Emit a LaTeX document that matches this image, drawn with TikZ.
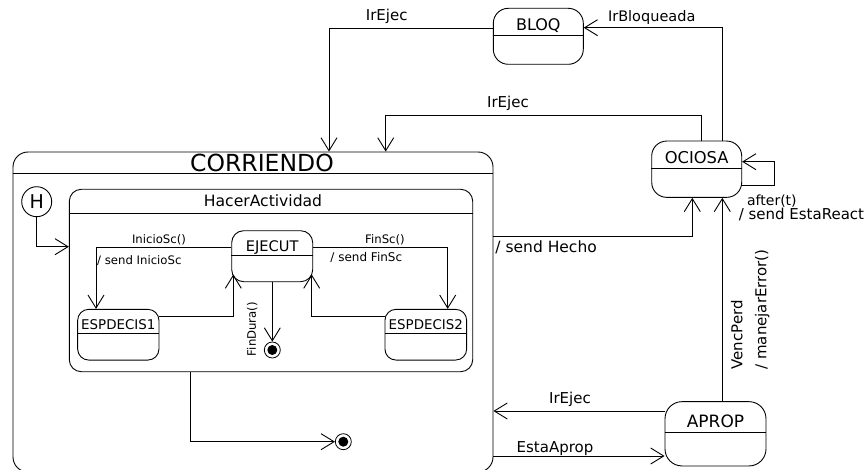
\documentclass[tikz,border=0pt]{standalone}
\usepackage{fontspec}
\setmainfont{DejaVu Sans}
\usetikzlibrary{arrows.meta,calc}
\begin{document}
\begin{tikzpicture}[x=1pt,y=-1pt,line width=0.9pt,
  ustate/.style={draw,rounded corners=#1,inner sep=0pt},
  ustate/.default=13pt,
  arr/.style={-{Straight Barb[length=13pt,width=16pt]}},
  fin/.style={draw,circle,minimum size=16pt,inner sep=0pt,line width=0.8pt,
    path picture={\fill (path picture bounding box.center) circle (5pt);}},
  tx/.style={inner sep=0pt,text depth=0pt,font=\fontsize{#1}{#1}\selectfont,text height=0.729*#1 pt},
  tx/.default=15]
\useasboundingbox (0,0) rectangle (866,470);
% composite states
\node[ustate=15pt,minimum width=480pt,minimum height=320pt] (corr) at (253,312) {};
\draw (corr.west |- 0,173.3) -- (corr.east |- 0,173.3);
\node[tx=23.5] (corrT) at (262,163) {CORRIENDO};
\node[ustate=12pt,minimum width=403.4pt,minimum height=182.4pt] (hacer) at (271,280.5) {};
\draw (hacer.west |- 0,213.3) -- (hacer.east |- 0,213.3);
\node[tx=15.6] (hacerT) at (263,201) {HacerActividad};
% history
\node[draw,circle,minimum size=30pt,inner sep=0pt,font=\fontsize{19}{19}\selectfont] (hist) at (36.7,201.7) {H};
% inner states
\node[ustate=12pt,minimum width=81pt,minimum height=51pt] (ejec) at (272.2,256.2) {};
\draw (ejec.west |- 0,255.7) -- (ejec.east |- 0,255.7);
\node[tx=14.6] (ejecT) at (272.2,246) {EJECUT};
\node[ustate=11pt,minimum width=81.3pt,minimum height=50.7pt] (esp1) at (118.3,334.7) {};
\draw (esp1.west |- 0,333.3) -- (esp1.east |- 0,333.3);
\node[tx=13.4] (esp1T) at (118.3,324.3) {ESPDECIS1};
\node[ustate=11pt,minimum width=81.7pt,minimum height=50.7pt] (esp2) at (425.8,334.7) {};
\draw (esp2.west |- 0,333.3) -- (esp2.east |- 0,333.3);
\node[tx=13.4] (esp2T) at (425.8,324.3) {ESPDECIS2};
\node[fin] (fin1) at (272.3,350) {};
\node[fin] (fin2) at (343.3,441.7) {};
% outer states
\node[ustate=15pt,minimum width=90pt,minimum height=56pt] (bloq) at (538.3,36.3) {};
\draw (bloq.west |- 0,35.7) -- (bloq.east |- 0,35.7);
\node[tx=16] (bloqT) at (538.3,25) {BLOQ};
\node[ustate=15pt,minimum width=90pt,minimum height=56.3pt] (ocio) at (696.7,169.2) {};
\draw (ocio.west |- 0,168.3) -- (ocio.east |- 0,168.3);
\node[tx=16.3] (ocioT) at (696.7,157.7) {OCIOSA};
\node[ustate=17pt,minimum width=101pt,minimum height=64.3pt] (aprop) at (715.5,433.8) {};
\draw (aprop.west |- 0,432.3) -- (aprop.east |- 0,432.3);
\node[tx=17] (apropT) at (715.5,421.7) {APROP};
% connector helper coordinates
\coordinate (ejin1) at (233.3,274.5);
\coordinate (ejin2) at (311.7,274.5);
\coordinate (loopc) at (774,185);
\coordinate (bendA) at (701.7,115.7);
% connectors inside
\draw[arr] (hist.south) |- (hacer.west |- 0,246.7);
\draw[arr] (hacer.south -| 190.3,0) |- (fin2.west);
\draw[arr] (ejec.west |- 0,247.3) -| (esp1.north -| 96,0);
\draw[arr] (ejec.east |- 0,247.3) -| (esp2.north -| 447.7,0);
\draw[arr] (esp1.east |- 0,316) -| (ejin1);
\draw[arr] (esp2.west |- 0,316) -| (ejin2);
\draw[arr] (ejec.south -| fin1) -- (fin1.north);
% connectors outside
\draw[arr] (bloq.west |- 0,28.3) -| (corr.north -| 329,0);
\draw[arr] (ocio.north -| bendA) -- (bendA) -| (corr.north -| 385.7,0);
\draw[arr] (ocio.north -| 722.3,0) |- (bloq.east |- 0,27.7);
\draw[arr] (ocio.east |- loopc) -- (loopc) |- (ocio.east |- 0,161.7);
\draw[arr] (corr.east |- 0,236) -| (ocio.south -| 692.3,0);
\draw[arr] (aprop.north -| 722.3,0) -- (ocio.south -| 722.3,0);
\draw[arr] (aprop.west |- 0,411) -- (corr.east |- 0,411);
\draw[arr] (corr.east |- 0,456) -- (aprop.west |- 0,456);
% labels
\node[tx=15] (l1) at (386.7,15) {IrEjec};
\node[tx=15] (l2) at (508,102) {IrEjec};
\node[tx=14.5] (l3) at (651.7,16.7) {IrBloqueada};
\node[tx=14,anchor=west] (l4) at (746.7,200.5) {after(t)};
\node[tx=15,anchor=west] (l5) at (738.3,214) {/ send EstaReact};
\node[tx=15.5,anchor=west] (l6) at (495,247) {/ send Hecho};
\node[tx=15,rotate=90,anchor=west] (l7) at (737,370) {VencPerd};
\node[tx=15,rotate=90,anchor=west] (l8) at (761,370) {/ manejarError()};
\node[tx=15] (l9) at (570,398.3) {IrEjec};
\node[tx=15] (l10) at (555,446.7) {EstaAprop};
\node[tx=11.7] (l11) at (159,239.3) {InicioSc()};
\node[tx=11.7,anchor=west] (l12) at (96.7,260.7) {/ send InicioSc};
\node[tx=11.7] (l13) at (385,239.3) {FinSc()};
\node[tx=12,anchor=west] (l14) at (330,257.3) {/ send FinSc};
\node[tx=11.7,rotate=90] (l15) at (251.7,329) {FinDura()};
\end{tikzpicture}
\end{document}
